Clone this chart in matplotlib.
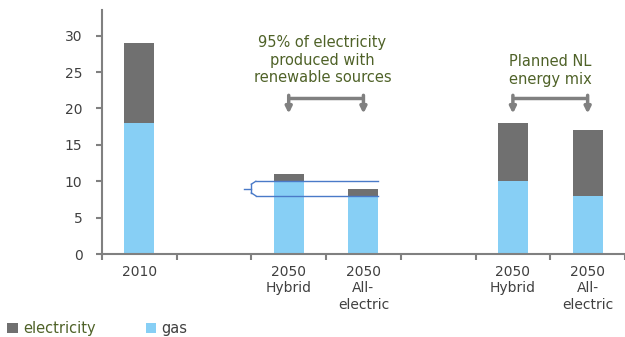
import numpy as np
import matplotlib
matplotlib.use("Agg")
import matplotlib.pyplot as plt

# data
cats = ["2010", "", "2050\nHybrid", "2050\nAll-\nelectric", "", "2050\nHybrid", "2050\nAll-\nelectric"]
gas = [18, 0, 10, 8, 0, 10, 8]
electricity = [11, 0, 1, 1, 0, 8, 9]

c_gas = "#87cff5"
c_el = "#707070"
c_txt = "#4f6228"
c_tick = "#404040"

fig = plt.figure(figsize=(6.25, 3.37), dpi=100)
ax = fig.add_axes([0.163, 0.246, 0.837, 0.724])

x = np.arange(len(cats))
b_gas = ax.bar(x, gas, width=0.4, color=c_gas, zorder=2)
b_el = ax.bar(x, electricity, width=0.4, bottom=gas, color=c_el, zorder=2)

ax.set_xlim(-0.5, 6.5)
ax.set_ylim(0, 33.5)
ax.set_yticks(range(0, 31, 5))
ax.set_xticks(np.arange(-0.5, 7, 1))
ax.set_xticklabels([])
ax.set_xticks(x, minor=True)
ax.set_xticklabels(cats, minor=True)
ax.tick_params(axis="x", which="minor", length=0, pad=8, labelsize=10, labelcolor=c_tick)
ax.tick_params(axis="x", which="major", length=4, width=1.5, color="#808080")
ax.tick_params(axis="y", length=4, width=1.5, color="#808080", labelsize=10,
               labelcolor=c_tick, pad=10)
for s in ["top", "right"]:
    ax.spines[s].set_visible(False)
for s in ["left", "bottom"]:
    ax.spines[s].set_color("#808080")
    ax.spines[s].set_linewidth(1.5)

# blue bracket round the two low 2050 bars
bl = "#4a7ac8"
x0, x1, r = 1.5, 3.2, 0.06
ax.plot([x0 + r, x1], [10, 10], color=bl, lw=1, zorder=3)
ax.plot([x0 + r, x1], [8, 8], color=bl, lw=1, zorder=3)
ax.plot([x0, x0], [8.4, 9.6], color=bl, lw=1, zorder=3)
ax.plot([x0, x0 + r], [9.6, 10], color=bl, lw=1, zorder=3)
ax.plot([x0, x0 + r], [8.4, 8], color=bl, lw=1, zorder=3)
ax.plot([x0 - 0.1, x0], [9, 9], color=bl, lw=1, zorder=3)

# grey arrows
def bracket(xa, xb):
    ax.plot([xa, xb], [21.5, 21.5], color="#808080", lw=2.5, solid_capstyle="butt")
    for xx in (xa, xb):
        ax.annotate("", xy=(xx, 19.3), xytext=(xx, 21.8),
                    arrowprops=dict(arrowstyle="-|>", color="#808080", lw=2.5,
                                    mutation_scale=9, shrinkA=0, shrinkB=0))

bracket(2, 3)
bracket(5, 6)

ax.text(2.45, 26.6, "95% of electricity\nproduced with\nrenewable sources",
        ha="center", va="center", color=c_txt, fontsize=10.5, linespacing=1.2)
ax.text(5.5, 25.2, "Planned NL\nenergy mix",
        ha="center", va="center", color=c_txt, fontsize=10.5, linespacing=1.2)

leg = fig.legend([b_el, b_gas], ["electricity", "gas"], loc="lower left",
                 bbox_to_anchor=(0.0, -0.02), ncol=2, frameon=False,
                 borderaxespad=0.3, borderpad=0.2,
                 handlelength=0.7, handleheight=0.7, handletextpad=0.4,
                 columnspacing=3.4, fontsize=10.5)
leg.get_texts()[0].set_color(c_txt)
leg.get_texts()[1].set_color(c_tick)

fig.savefig("out.png", dpi=100)
